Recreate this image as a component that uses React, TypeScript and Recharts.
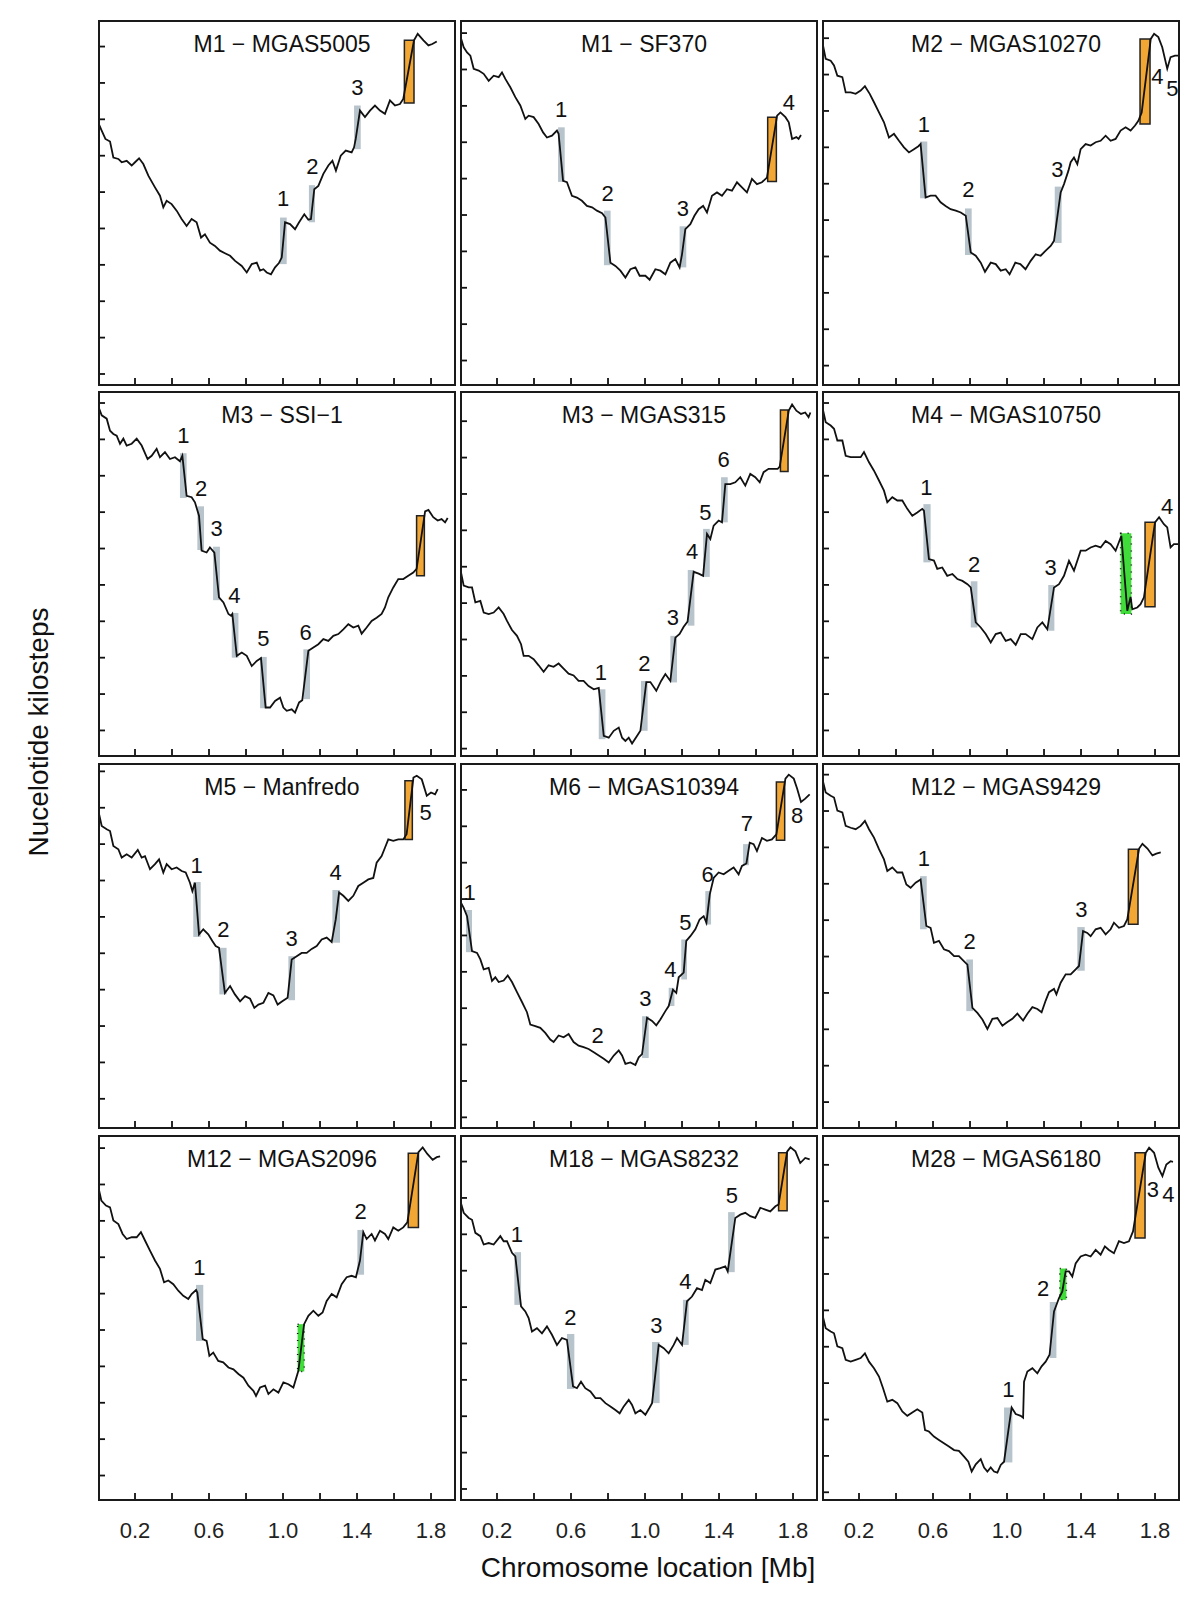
import React from 'react';
import { LineChart, Line, XAxis, YAxis, ReferenceArea, ReferenceDot } from 'recharts';

const FONT = '"Liberation Sans", Arial, Helvetica, sans-serif';

const TITLES = [
  'M1 − MGAS5005', 'M1 − SF370', 'M2 − MGAS10270',
  'M3 − SSI−1', 'M3 − MGAS315', 'M4 − MGAS10750',
  'M5 − Manfredo', 'M6 − MGAS10394', 'M12 − MGAS9429',
  'M12 − MGAS2096', 'M18 − MGAS8232', 'M28 − MGAS6180',
];

const X_TICKS = [0.2, 0.4, 0.6, 0.8, 1.0, 1.2, 1.4, 1.6, 1.8];
const X_LABELED = [0.2, 0.6, 1.0, 1.4, 1.8];
const X_MAX = 1.935;
const Y_MAX = 10.06;
// position of the lowest unlabelled y tick in each panel
const Y_TICK_START = [0.33, 0.7, 0.56, 0.73, 0.23, 0.73, 0.83, 0.32, 0.74, 0.7, 0.33, 0.24];

// ---- panel 1: M1 - MGAS5005
const LINE_1 = [[0,7.25],[0.02,7.02],[0.04,6.79],[0.065,6.72],[0.083,6.28],[0.11,6.24],[0.128,6.15],[0.155,6.19],[0.182,6.06],[0.2,6.15],[0.222,6.26],[0.245,6.1],[0.272,5.78],[0.308,5.46],[0.335,5.23],[0.353,4.91],[0.371,5.09],[0.398,5.0],[0.425,4.82],[0.452,4.59],[0.479,4.4],[0.506,4.59],[0.533,4.5],[0.557,4.08],[0.578,4.17],[0.605,3.94],[0.632,3.85],[0.659,3.72],[0.686,3.65],[0.714,3.58],[0.741,3.44],[0.777,3.3],[0.804,3.12],[0.831,3.35],[0.858,3.39],[0.876,3.17],[0.894,3.21],[0.912,3.12],[0.935,3.07],[0.957,3.26],[0.978,3.38],[0.993,3.53],[1.011,4.5],[1.038,4.45],[1.065,4.31],[1.087,4.5],[1.115,4.72],[1.137,4.57],[1.151,4.59],[1.169,5.41],[1.191,5.5],[1.218,5.83],[1.245,6.06],[1.267,6.19],[1.286,5.92],[1.312,6.33],[1.339,6.47],[1.371,6.42],[1.384,6.56],[1.393,6.79],[1.416,7.57],[1.443,7.39],[1.47,7.57],[1.497,7.71],[1.524,7.57],[1.551,7.48],[1.578,7.85],[1.605,7.71],[1.632,7.75],[1.65,7.89],[1.708,9.5],[1.728,9.68],[1.759,9.5],[1.786,9.36],[1.807,9.4],[1.831,9.47]];
const BARS_1 = [[0.984,1.02,3.35,4.63],[1.14,1.173,4.5,5.52],[1.384,1.42,6.51,7.71]];
const ORANGE_1 = [[1.656,1.708,7.78,9.5]];
const GREEN_1: number[][] = [];
const MARKS_1 = [[1.0,5.14,'1'],[1.159,6.03,'2'],[1.402,8.21,'3']];

// ---- panel 2: M1 - SF370
const LINE_2 = [[0,9.65],[0.02,9.31],[0.038,9.17],[0.056,9.08],[0.074,8.72],[0.101,8.67],[0.128,8.58],[0.155,8.39],[0.182,8.53],[0.209,8.49],[0.227,8.62],[0.245,8.44],[0.272,8.21],[0.299,7.94],[0.326,7.71],[0.353,7.34],[0.371,7.43],[0.398,7.39],[0.425,7.2],[0.449,6.97],[0.47,6.83],[0.497,6.88],[0.524,7.02],[0.533,6.93],[0.557,5.64],[0.578,5.6],[0.605,5.23],[0.632,5.18],[0.659,5.09],[0.686,4.95],[0.714,4.91],[0.74,4.82],[0.768,4.75],[0.786,4.63],[0.813,3.39],[0.84,3.3],[0.867,3.17],[0.894,2.98],[0.921,3.21],[0.948,3.26],[0.971,3.03],[1.002,3.03],[1.025,2.92],[1.056,3.21],[1.083,3.17],[1.11,3.07],[1.137,3.39],[1.164,3.49],[1.187,3.26],[1.2,3.62],[1.218,4.31],[1.245,4.45],[1.267,4.68],[1.29,4.86],[1.314,4.95],[1.335,4.77],[1.362,5.23],[1.389,5.32],[1.416,5.23],[1.443,5.41],[1.47,5.37],[1.497,5.6],[1.524,5.46],[1.551,5.32],[1.578,5.69],[1.605,5.55],[1.632,5.6],[1.659,5.73],[1.714,7.43],[1.732,7.52],[1.759,7.39],[1.777,7.25],[1.795,6.79],[1.818,6.84],[1.83,6.79],[1.843,6.9]];
const BARS_2 = [[0.53,0.566,5.61,7.11],[0.778,0.814,3.32,4.82],[1.187,1.223,3.26,4.39]];
const ORANGE_2 = [[1.663,1.71,5.62,7.39]];
const GREEN_2: number[][] = [];
const MARKS_2 = [[0.546,7.6,'1'],[0.798,5.29,'2'],[1.205,4.88,'3'],[1.777,7.8,'4']];

// ---- panel 3: M2 - MGAS10270
const LINE_3 = [[0,9.5],[0.02,8.99],[0.047,8.94],[0.065,8.81],[0.083,8.53],[0.11,8.49],[0.128,8.07],[0.155,8.07],[0.182,8.03],[0.209,8.12],[0.232,8.24],[0.258,8.03],[0.281,7.8],[0.308,7.52],[0.335,7.25],[0.362,6.83],[0.389,6.93],[0.416,6.74],[0.443,6.56],[0.47,6.42],[0.497,6.51],[0.521,6.59],[0.533,6.65],[0.56,5.18],[0.587,5.23],[0.614,5.23],[0.641,5.05],[0.668,4.95],[0.695,4.86],[0.723,4.82],[0.75,4.77],[0.777,4.68],[0.804,3.67],[0.831,3.58],[0.858,3.39],[0.881,3.14],[0.912,3.39],[0.939,3.35],[0.966,3.17],[0.993,3.21],[1.014,3.07],[1.045,3.39],[1.072,3.35],[1.1,3.21],[1.128,3.44],[1.155,3.62],[1.182,3.58],[1.209,3.72],[1.236,3.85],[1.254,3.99],[1.29,5.32],[1.308,5.55],[1.332,5.92],[1.344,6.15],[1.362,6.28],[1.38,6.1],[1.398,6.51],[1.425,6.65],[1.452,6.61],[1.479,6.7],[1.506,6.74],[1.533,6.88],[1.56,6.74],[1.587,6.79],[1.614,7.02],[1.641,7.11],[1.668,7.02],[1.692,7.16],[1.71,7.29],[1.728,7.52],[1.777,9.54],[1.795,9.68],[1.818,9.59],[1.839,9.31],[1.866,8.72],[1.884,9.04],[1.908,9.08],[1.93,9.08]];
const BARS_3 = [[0.53,0.569,5.16,6.72],[0.773,0.809,3.6,4.88],[1.258,1.295,3.93,5.48]];
const ORANGE_3 = [[1.719,1.773,7.2,9.54]];
const GREEN_3: number[][] = [];
const MARKS_3 = [[0.551,7.2,'1'],[0.791,5.39,'2'],[1.272,5.94,'3'],[1.813,8.51,'4'],[1.894,8.18,'5']];

// ---- panel 4: M3 - SSI-1
const LINE_4 = [[0,9.66],[0.02,9.39],[0.047,9.3],[0.065,8.97],[0.083,8.88],[0.101,8.83],[0.119,8.61],[0.137,8.75],[0.155,8.56],[0.182,8.61],[0.209,8.75],[0.236,8.56],[0.268,8.19],[0.29,8.28],[0.317,8.47],[0.335,8.24],[0.362,8.38],[0.389,8.19],[0.416,8.24],[0.443,8.13],[0.456,8.28],[0.479,7.18],[0.506,7.14],[0.524,7.0],[0.546,6.63],[0.56,5.67],[0.587,5.62],[0.605,5.76],[0.629,5.62],[0.654,4.39],[0.678,4.25],[0.705,3.93],[0.719,3.88],[0.726,3.93],[0.75,2.78],[0.777,2.87],[0.804,2.78],[0.831,2.5],[0.858,2.64],[0.881,2.72],[0.906,1.36],[0.93,1.36],[0.957,1.54],[0.984,1.63],[1.002,1.36],[1.02,1.27],[1.047,1.31],[1.065,1.22],[1.087,1.5],[1.104,1.56],[1.137,2.92],[1.164,3.01],[1.191,3.1],[1.218,3.24],[1.245,3.19],[1.272,3.33],[1.299,3.38],[1.326,3.51],[1.353,3.65],[1.38,3.56],[1.407,3.61],[1.425,3.39],[1.452,3.56],[1.479,3.74],[1.506,3.83],[1.533,3.93],[1.551,4.11],[1.569,4.39],[1.596,4.66],[1.623,4.89],[1.65,4.89],[1.677,4.98],[1.704,5.07],[1.722,5.17],[1.768,6.75],[1.786,6.79],[1.812,6.59],[1.836,6.5],[1.857,6.54],[1.876,6.45],[1.89,6.57]];
const BARS_4 = [[0.443,0.479,7.12,8.35],[0.537,0.573,5.69,6.89],[0.622,0.659,4.31,5.78],[0.723,0.759,2.73,3.96],[0.876,0.912,1.34,2.75],[1.11,1.146,1.59,2.96]];
const ORANGE_4 = [[1.722,1.764,4.98,6.63]];
const GREEN_4: number[][] = [];
const MARKS_4 = [[0.461,8.83,'1'],[0.557,7.37,'2'],[0.641,6.27,'3'],[0.737,4.43,'4'],[0.894,3.27,'5'],[1.122,3.42,'6']];

// ---- panel 5: M3 - MGAS315
const LINE_5 = [[0,5.21],[0.02,4.71],[0.047,4.66],[0.065,4.66],[0.083,4.25],[0.11,4.29],[0.128,3.97],[0.155,3.93],[0.182,3.97],[0.209,4.11],[0.236,3.93],[0.254,3.74],[0.281,3.49],[0.308,3.33],[0.33,3.1],[0.344,2.78],[0.371,2.78],[0.398,2.69],[0.425,2.52],[0.452,2.34],[0.479,2.52],[0.506,2.48],[0.533,2.57],[0.56,2.43],[0.587,2.29],[0.614,2.24],[0.641,2.09],[0.668,2.09],[0.695,1.95],[0.723,1.86],[0.75,1.9],[0.777,0.58],[0.804,0.53],[0.831,0.72],[0.858,0.81],[0.876,0.53],[0.894,0.44],[0.912,0.53],[0.93,0.37],[0.953,0.55],[0.975,0.72],[1.007,2.06],[1.029,2.06],[1.061,1.82],[1.087,2.09],[1.11,2.28],[1.137,2.09],[1.164,3.28],[1.187,3.38],[1.209,3.58],[1.23,3.72],[1.263,5.09],[1.29,5.04],[1.314,4.98],[1.335,6.13],[1.353,5.99],[1.371,6.36],[1.398,6.5],[1.416,6.45],[1.434,7.5],[1.461,7.5],[1.488,7.55],[1.515,7.69],[1.542,7.46],[1.569,7.78],[1.596,7.69],[1.62,7.55],[1.641,7.83],[1.668,7.92],[1.695,7.92],[1.717,7.92],[1.728,7.98],[1.777,9.52],[1.795,9.69],[1.818,9.52],[1.843,9.43],[1.866,9.47],[1.884,9.34],[1.894,9.47]];
const BARS_5 = [[0.75,0.786,0.49,1.86],[0.978,1.014,0.72,2.09],[1.137,1.173,2.05,3.33],[1.231,1.267,3.61,5.14],[1.314,1.35,4.95,6.27],[1.411,1.447,6.45,7.69]];
const ORANGE_5 = [[1.732,1.773,7.85,9.54]];
const GREEN_5: number[][] = [];
const MARKS_5 = [[0.762,2.32,'1'],[0.996,2.57,'2'],[1.151,3.83,'3'],[1.254,5.64,'4'],[1.326,6.72,'5'],[1.425,8.18,'6']];

// ---- panel 6: M4 - MGAS10750
const LINE_6 = [[0,9.66],[0.02,9.2],[0.047,9.11],[0.065,9.02],[0.083,8.7],[0.11,8.7],[0.128,8.28],[0.155,8.24],[0.182,8.24],[0.209,8.24],[0.227,8.38],[0.254,8.1],[0.281,7.87],[0.308,7.6],[0.335,7.32],[0.353,7.0],[0.38,7.14],[0.407,7.05],[0.434,7.05],[0.461,6.82],[0.488,6.63],[0.515,6.72],[0.542,6.82],[0.551,6.77],[0.578,5.44],[0.605,5.4],[0.623,5.17],[0.65,5.21],[0.677,4.98],[0.705,5.03],[0.732,4.89],[0.759,4.84],[0.786,4.75],[0.804,4.66],[0.831,3.7],[0.858,3.56],[0.885,3.38],[0.912,3.15],[0.939,3.38],[0.966,3.42],[0.993,3.19],[1.02,3.24],[1.047,3.08],[1.074,3.38],[1.101,3.38],[1.137,3.24],[1.164,3.56],[1.191,3.7],[1.218,3.51],[1.254,4.66],[1.281,4.75],[1.308,4.98],[1.335,5.39],[1.362,5.12],[1.398,5.67],[1.425,5.67],[1.452,5.76],[1.479,5.81],[1.506,5.76],[1.533,5.94],[1.56,5.85],[1.587,5.67],[1.618,6.08],[1.65,4.02],[1.668,4.4],[1.677,4.06],[1.704,4.11],[1.722,4.2],[1.74,4.39],[1.8,6.45],[1.822,6.59],[1.848,6.4],[1.866,6.31],[1.884,5.76],[1.902,5.85],[1.93,5.85]];
const BARS_6 = [[0.548,0.587,5.35,6.95],[0.804,0.84,3.56,4.83],[1.223,1.256,3.47,4.73]];
const ORANGE_6 = [[1.746,1.8,4.13,6.45]];
const GREEN_6 = [[1.614,1.672,3.93,6.15]];
const MARKS_6 = [[0.564,7.41,'1'],[0.822,5.28,'2'],[1.236,5.21,'3'],[1.866,6.88,'4']];

// ---- panel 7: M5 - Manfredo
const LINE_7 = [[0,8.79],[0.02,8.33],[0.047,8.24],[0.065,8.19],[0.083,7.78],[0.11,7.69],[0.128,7.46],[0.155,7.55],[0.182,7.46],[0.215,7.67],[0.236,7.46],[0.254,7.5],[0.281,7.14],[0.308,7.28],[0.33,7.41],[0.353,7.05],[0.371,7.28],[0.398,7.14],[0.425,7.19],[0.452,7.09],[0.474,7.05],[0.497,6.77],[0.51,6.54],[0.524,6.77],[0.546,5.35],[0.569,5.49],[0.596,5.35],[0.618,5.17],[0.636,5.03],[0.654,4.98],[0.686,3.74],[0.714,3.93],[0.74,3.7],[0.768,3.51],[0.795,3.65],[0.822,3.58],[0.845,3.33],[0.867,3.42],[0.894,3.47],[0.921,3.74],[0.948,3.67],[0.971,3.42],[0.996,3.51],[1.025,3.61],[1.047,4.66],[1.074,4.75],[1.101,4.84],[1.128,4.84],[1.155,4.95],[1.182,5.03],[1.209,5.21],[1.236,5.26],[1.263,5.14],[1.285,5.76],[1.303,6.5],[1.326,6.41],[1.353,6.27],[1.38,6.41],[1.407,6.68],[1.434,6.77],[1.461,6.86],[1.488,6.9],[1.506,7.32],[1.533,7.5],[1.551,7.73],[1.569,7.96],[1.596,7.92],[1.623,7.96],[1.65,7.96],[1.668,8.1],[1.705,9.66],[1.723,9.71],[1.75,9.61],[1.777,9.16],[1.8,9.25],[1.822,9.2],[1.836,9.34]];
const BARS_7 = [[0.515,0.555,5.28,6.79],[0.656,0.695,3.7,4.98],[1.029,1.065,3.54,4.75],[1.267,1.308,5.12,6.57]];
const ORANGE_7 = [[1.659,1.699,7.96,9.57]];
const GREEN_7: number[][] = [];
const MARKS_7 = [[0.533,7.25,'1'],[0.677,5.47,'2'],[1.047,5.23,'3'],[1.285,7.05,'4'],[1.771,8.7,'5']];

// ---- panel 8: M6 - MGAS10394
const LINE_8 = [[0,6.27],[0.02,6.08],[0.038,5.85],[0.065,4.89],[0.092,4.84],[0.11,4.66],[0.128,4.39],[0.155,4.43],[0.173,4.07],[0.191,4.17],[0.209,4.04],[0.236,4.08],[0.258,4.22],[0.281,4.04],[0.308,3.76],[0.335,3.49],[0.362,3.21],[0.38,2.87],[0.407,2.83],[0.434,2.78],[0.461,2.64],[0.488,2.46],[0.506,2.39],[0.533,2.57],[0.56,2.52],[0.587,2.61],[0.614,2.39],[0.641,2.29],[0.668,2.25],[0.695,2.2],[0.723,2.11],[0.75,2.02],[0.777,1.93],[0.804,1.83],[0.831,2.02],[0.858,2.16],[0.876,2.02],[0.894,1.79],[0.921,1.83],[0.948,1.76],[0.966,1.97],[0.984,2.06],[1.011,3.06],[1.038,2.97],[1.061,2.85],[1.083,3.01],[1.11,3.24],[1.128,3.38],[1.151,3.83],[1.169,3.74],[1.182,4.17],[1.209,4.3],[1.223,5.17],[1.245,5.3],[1.272,5.49],[1.295,5.76],[1.317,5.85],[1.332,5.67],[1.35,6.45],[1.371,6.9],[1.398,7.05],[1.425,7.0],[1.452,7.1],[1.479,7.19],[1.506,7.0],[1.524,7.23],[1.548,7.3],[1.566,7.87],[1.587,7.83],[1.605,7.64],[1.632,8.0],[1.659,7.92],[1.686,7.96],[1.71,8.1],[1.759,9.63],[1.777,9.74],[1.804,9.63],[1.822,9.36],[1.843,8.99],[1.866,9.08],[1.89,9.2]];
const BARS_8 = [[0.032,0.065,4.86,6.02],[0.984,1.02,1.95,3.1],[1.128,1.159,3.38,3.88],[1.196,1.227,4.11,5.21],[1.326,1.357,5.62,6.54],[1.53,1.562,7.25,7.83]];
const ORANGE_8 = [[1.71,1.755,7.94,9.54]];
const GREEN_8: number[][] = [];
const MARKS_8 = [[0.052,6.5,'1'],[0.744,2.57,'2'],[1.002,3.6,'3'],[1.137,4.39,'4'],[1.218,5.67,'5'],[1.339,7.0,'6'],[1.551,8.39,'7'],[1.822,8.61,'8']];

// ---- panel 9: M12 - MGAS9429
const LINE_9 = [[0,9.66],[0.02,9.25],[0.047,9.16],[0.065,9.11],[0.083,8.75],[0.11,8.7],[0.128,8.33],[0.155,8.28],[0.182,8.24],[0.209,8.33],[0.232,8.47],[0.254,8.24],[0.281,8.01],[0.308,7.69],[0.335,7.41],[0.353,7.09],[0.38,7.19],[0.407,7.05],[0.434,7.05],[0.456,6.72],[0.479,6.63],[0.506,6.77],[0.533,6.86],[0.564,5.58],[0.587,5.53],[0.605,5.12],[0.632,5.17],[0.659,4.94],[0.686,4.89],[0.714,4.75],[0.74,4.75],[0.768,4.61],[0.786,4.52],[0.813,3.33],[0.84,3.19],[0.867,3.01],[0.894,2.75],[0.921,3.03],[0.948,3.05],[0.975,2.84],[1.002,2.94],[1.029,3.03],[1.056,3.17],[1.087,2.98],[1.11,3.17],[1.137,3.35],[1.164,3.3],[1.187,3.21],[1.209,3.53],[1.227,3.76],[1.254,3.85],[1.267,3.7],[1.29,4.02],[1.317,4.25],[1.344,4.25],[1.371,4.39],[1.389,4.48],[1.411,5.44],[1.434,5.39],[1.452,5.3],[1.479,5.49],[1.506,5.53],[1.533,5.35],[1.56,5.49],[1.578,5.67],[1.605,5.53],[1.632,5.58],[1.65,5.76],[1.714,7.71],[1.732,7.84],[1.759,7.71],[1.786,7.52],[1.807,7.57],[1.831,7.6]];
const BARS_9 = [[0.53,0.566,5.49,6.95],[0.78,0.816,3.24,4.66],[1.38,1.42,4.35,5.55]];
const ORANGE_9 = [[1.656,1.708,5.63,7.69]];
const GREEN_9: number[][] = [];
const MARKS_9 = [[0.551,7.43,'1'],[0.798,5.14,'2'],[1.402,6.04,'3']];

// ---- panel 10: M12 - MGAS2096
const LINE_10 = [[0,8.67],[0.018,8.26],[0.043,8.12],[0.065,8.07],[0.083,7.71],[0.11,7.61],[0.133,7.34],[0.155,7.2],[0.182,7.25],[0.209,7.25],[0.232,7.39],[0.254,7.16],[0.281,6.88],[0.308,6.61],[0.335,6.38],[0.357,6.01],[0.38,6.06],[0.407,5.96],[0.434,5.78],[0.461,5.64],[0.488,5.55],[0.506,5.69],[0.53,5.8],[0.537,5.73],[0.566,4.45],[0.587,4.4],[0.602,3.99],[0.623,4.08],[0.65,3.85],[0.677,3.81],[0.705,3.67],[0.732,3.62],[0.759,3.49],[0.786,3.39],[0.813,3.17],[0.84,3.03],[0.854,2.89],[0.876,3.12],[0.903,3.17],[0.921,2.94],[0.948,3.07],[0.975,2.98],[1.002,3.26],[1.029,3.21],[1.056,3.12],[1.083,3.58],[1.114,4.86],[1.137,5.09],[1.164,5.23],[1.191,5.09],[1.214,5.18],[1.236,5.5],[1.263,5.69],[1.29,5.6],[1.317,5.96],[1.344,6.15],[1.371,6.19],[1.394,6.15],[1.416,6.61],[1.434,7.39],[1.452,7.2],[1.479,7.34],[1.497,7.16],[1.524,7.43],[1.551,7.34],[1.569,7.2],[1.596,7.52],[1.623,7.43],[1.65,7.52],[1.672,7.66],[1.732,9.59],[1.755,9.72],[1.78,9.54],[1.809,9.38],[1.831,9.45],[1.849,9.47]];
const BARS_10 = [[0.53,0.569,4.4,5.94],[1.402,1.438,6.22,7.45]];
const ORANGE_10 = [[1.677,1.732,7.52,9.56]];
const GREEN_10 = [[1.079,1.115,3.56,4.86]];
const MARKS_10 = [[0.548,6.42,'1'],[1.42,7.96,'2']];

// ---- panel 11: M18 - MGAS8232
const LINE_11 = [[0,8.28],[0.02,7.92],[0.047,7.78],[0.065,7.73],[0.083,7.37],[0.11,7.28],[0.128,7.05],[0.155,7.09],[0.182,7.05],[0.218,7.28],[0.236,7.14],[0.254,7.14],[0.281,6.82],[0.299,6.72],[0.33,5.35],[0.353,5.21],[0.371,5.03],[0.389,4.66],[0.416,4.75],[0.443,4.61],[0.47,4.8],[0.497,4.57],[0.524,4.29],[0.551,4.48],[0.578,4.43],[0.611,3.15],[0.632,3.1],[0.654,3.28],[0.677,3.1],[0.705,3.01],[0.732,2.83],[0.759,2.83],[0.786,2.69],[0.813,2.6],[0.84,2.5],[0.863,2.41],[0.885,2.6],[0.912,2.78],[0.93,2.64],[0.948,2.41],[0.975,2.5],[1.002,2.37],[1.025,2.57],[1.038,2.69],[1.074,4.29],[1.101,4.2],[1.128,4.06],[1.155,4.29],[1.173,4.48],[1.2,4.29],[1.227,5.49],[1.254,5.62],[1.281,5.85],[1.308,5.8],[1.326,6.08],[1.353,5.99],[1.38,6.36],[1.407,6.4],[1.434,6.45],[1.447,6.31],[1.488,7.78],[1.515,7.87],[1.542,7.92],[1.569,7.83],[1.596,7.78],[1.623,8.06],[1.65,8.01],[1.677,7.96],[1.705,8.1],[1.722,8.15],[1.768,9.6],[1.786,9.72],[1.813,9.61],[1.839,9.29],[1.866,9.43],[1.89,9.39]];
const BARS_11 = [[0.294,0.33,5.39,6.84],[0.578,0.618,3.08,4.59],[1.038,1.079,2.69,4.37],[1.205,1.236,4.29,5.53],[1.449,1.485,6.29,7.94]];
const ORANGE_11 = [[1.722,1.768,7.98,9.57]];
const GREEN_11: number[][] = [];
const MARKS_11 = [[0.308,7.32,'1'],[0.596,5.05,'2'],[1.061,4.83,'3'],[1.218,6.02,'4'],[1.47,8.4,'5']];

// ---- panel 12: M28 - MGAS6180
const LINE_12 = [[0,5.17],[0.02,4.75],[0.047,4.66],[0.065,4.61],[0.083,4.25],[0.11,4.2],[0.128,3.88],[0.155,3.83],[0.182,3.88],[0.209,3.93],[0.232,4.06],[0.254,3.83],[0.281,3.65],[0.308,3.42],[0.33,3.1],[0.353,2.73],[0.38,2.78],[0.407,2.69],[0.434,2.46],[0.461,2.34],[0.488,2.43],[0.515,2.52],[0.542,2.43],[0.557,1.95],[0.578,1.91],[0.605,1.77],[0.632,1.68],[0.659,1.59],[0.686,1.5],[0.714,1.4],[0.74,1.38],[0.768,1.22],[0.791,1.08],[0.809,0.81],[0.831,1.01],[0.858,1.15],[0.876,0.92],[0.894,0.81],[0.912,0.92],[0.93,0.81],[0.948,0.78],[0.966,0.99],[0.984,1.08],[1.007,1.93],[1.025,2.57],[1.047,2.39],[1.074,2.34],[1.087,2.29],[1.092,3.28],[1.11,3.56],[1.137,3.65],[1.164,3.51],[1.187,3.7],[1.209,3.83],[1.23,4.02],[1.254,5.21],[1.281,5.58],[1.299,5.76],[1.317,6.31],[1.335,6.31],[1.353,6.17],[1.371,6.53],[1.398,6.72],[1.425,6.77],[1.452,6.72],[1.479,6.9],[1.506,6.77],[1.529,7.0],[1.551,6.9],[1.578,6.81],[1.605,7.14],[1.632,7.09],[1.659,7.14],[1.681,7.41],[1.75,9.57],[1.768,9.71],[1.795,9.57],[1.818,9.16],[1.84,8.93],[1.861,9.25],[1.884,9.34],[1.897,9.32]];
const BARS_12 = [[0.984,1.029,1.06,2.57],[1.231,1.267,3.93,5.47]];
const ORANGE_12 = [[1.692,1.746,7.23,9.57]];
const GREEN_12 = [[1.285,1.321,5.53,6.39]];
const MARKS_12 = [[1.007,3.06,'1'],[1.195,5.83,'2'],[1.789,8.56,'3'],[1.872,8.42,'4']];

const LINES = [LINE_1, LINE_2, LINE_3, LINE_4, LINE_5, LINE_6, LINE_7, LINE_8, LINE_9, LINE_10, LINE_11, LINE_12];
const BARS = [BARS_1, BARS_2, BARS_3, BARS_4, BARS_5, BARS_6, BARS_7, BARS_8, BARS_9, BARS_10, BARS_11, BARS_12];
const ORANGES = [ORANGE_1, ORANGE_2, ORANGE_3, ORANGE_4, ORANGE_5, ORANGE_6, ORANGE_7, ORANGE_8, ORANGE_9, ORANGE_10, ORANGE_11, ORANGE_12];
const GREENS = [GREEN_1, GREEN_2, GREEN_3, GREEN_4, GREEN_5, GREEN_6, GREEN_7, GREEN_8, GREEN_9, GREEN_10, GREEN_11, GREEN_12];
const MARKS = [MARKS_1, MARKS_2, MARKS_3, MARKS_4, MARKS_5, MARKS_6, MARKS_7, MARKS_8, MARKS_9, MARKS_10, MARKS_11, MARKS_12];

const COL_LEFT = [98, 460, 822];
const ROW_TOP = [20, 391, 763, 1135];
const PANEL_W = 358;
const PANEL_H = 366;
const AXIS_H = 52;
const Y_AXIS_W = 1;

// inward tick marks; bottom row also carries the tick labels below the frame
function XTick(props: any, bottom: boolean) {
  const { x, payload } = props;
  const v = payload.value as number;
  return (
    <g>
      <line x1={x} x2={x} y1={PANEL_H} y2={PANEL_H - 8} stroke="#111" strokeWidth={1.8} />
      {bottom && X_LABELED.includes(v) ? (
        <text x={x} y={PANEL_H + 37} textAnchor="middle" style={{ fontSize: 22 }} fill="#222" fontFamily={FONT}>
          {v.toFixed(1)}
        </text>
      ) : null}
    </g>
  );
}

function YTick(props: any) {
  const { y } = props;
  return <line x1={Y_AXIS_W} x2={Y_AXIS_W + 7} y1={y} y2={y} stroke="#111" strokeWidth={1.8} />;
}

function Panel({ idx, bottom }: { idx: number; bottom: boolean }) {
  const data = LINES[idx].map(([x, y]) => ({ x, y }));
  const t0 = Y_TICK_START[idx];
  const yTicks = Array.from({ length: 10 }, (_, k) => +(t0 + k).toFixed(2)).filter((v) => v < Y_MAX);
  return (
    <LineChart
      width={PANEL_W + Y_AXIS_W}
      height={PANEL_H + (bottom ? AXIS_H : 1)}
      data={data}
      margin={{ top: 0, right: 0, bottom: 0, left: 0 }}
    >
      <XAxis
        type="number"
        dataKey="x"
        domain={[0, X_MAX]}
        ticks={X_TICKS}
        interval={0}
        allowDataOverflow
        height={bottom ? AXIS_H : 1}
        tickSize={0}
        tickMargin={0}
        axisLine={false}
        tickLine={false}
        tick={(p: any) => XTick(p, bottom)}
      />
      <YAxis
        type="number"
        domain={[0, Y_MAX]}
        ticks={yTicks}
        interval={0}
        allowDataOverflow
        width={Y_AXIS_W}
        tickSize={0}
        tickMargin={0}
        axisLine={false}
        tickLine={false}
        tick={(p: any) => YTick(p)}
      />
      {BARS[idx].map(([x1, x2, y1, y2], i) => (
        <ReferenceArea key={'b' + i} x1={x1} x2={x2} y1={y1} y2={y2} fill="#b8c4cc" fillOpacity={1} stroke="none" />
      ))}
      {GREENS[idx].map(([x1, x2, y1, y2], i) => (
        <ReferenceArea key={'g' + i} x1={x1} x2={x2} y1={y1} y2={y2} fill="#3fdc3a" fillOpacity={1} stroke="#111" strokeWidth={1.5} strokeDasharray="1 6" />
      ))}
      {ORANGES[idx].map(([x1, x2, y1, y2], i) => (
        <ReferenceArea key={'o' + i} x1={x1} x2={x2} y1={y1} y2={y2} fill="#f2a634" fillOpacity={1} stroke="#222" strokeWidth={1.5} />
      ))}
      <Line type="linear" dataKey="y" stroke="#111" strokeWidth={1.8} dot={false} isAnimationActive={false} />
      {MARKS[idx].map(([x, y, t], i) => (
        <ReferenceDot
          key={'m' + i}
          x={x as number}
          y={y as number}
          r={0}
          shape={(p: any) => (
            <text x={p.cx} y={p.cy} textAnchor="middle" dominantBaseline="central" style={{ fontSize: 22 }} fill="#111" fontFamily={FONT}>
              {t as string}
            </text>
          )}
        />
      ))}
    </LineChart>
  );
}

export default function App() {
  return (
    <div style={{ position: 'absolute', left: 0, top: 0, width: 1200, height: 1600, background: '#fff', fontFamily: FONT, color: '#111' }}>
      {TITLES.map((title, idx) => {
        const row = Math.floor(idx / 3);
        const col = idx % 3;
        const left = COL_LEFT[col];
        const top = ROW_TOP[row];
        return (
          <React.Fragment key={idx}>
            <div style={{ position: 'absolute', left: left - Y_AXIS_W, top }}>
              <Panel idx={idx} bottom={row === 3} />
            </div>
            <div
              style={{
                position: 'absolute',
                left,
                top,
                width: PANEL_W,
                height: PANEL_H,
                boxSizing: 'border-box',
                border: '2px solid #1a1a1a',
                pointerEvents: 'none',
              }}
            />
            <div
              style={{
                position: 'absolute',
                left: left + 184,
                top: top + 13,
                transform: 'translateX(-50%)',
                fontSize: 23,
                lineHeight: '23px',
                whiteSpace: 'nowrap',
              }}
            >
              {title}
            </div>
          </React.Fragment>
        );
      })}
      <div
        style={{
          position: 'absolute',
          left: 39,
          top: 732,
          transform: 'translate(-50%, -50%) rotate(-90deg)',
          fontSize: 28,
          lineHeight: '28px',
          whiteSpace: 'nowrap',
        }}
      >
        Nucelotide kilosteps
      </div>
      <div
        style={{
          position: 'absolute',
          left: 648,
          top: 1568,
          transform: 'translate(-50%, -50%)',
          fontSize: 28,
          lineHeight: '28px',
          whiteSpace: 'nowrap',
        }}
      >
        Chromosome location [Mb]
      </div>
    </div>
  );
}
